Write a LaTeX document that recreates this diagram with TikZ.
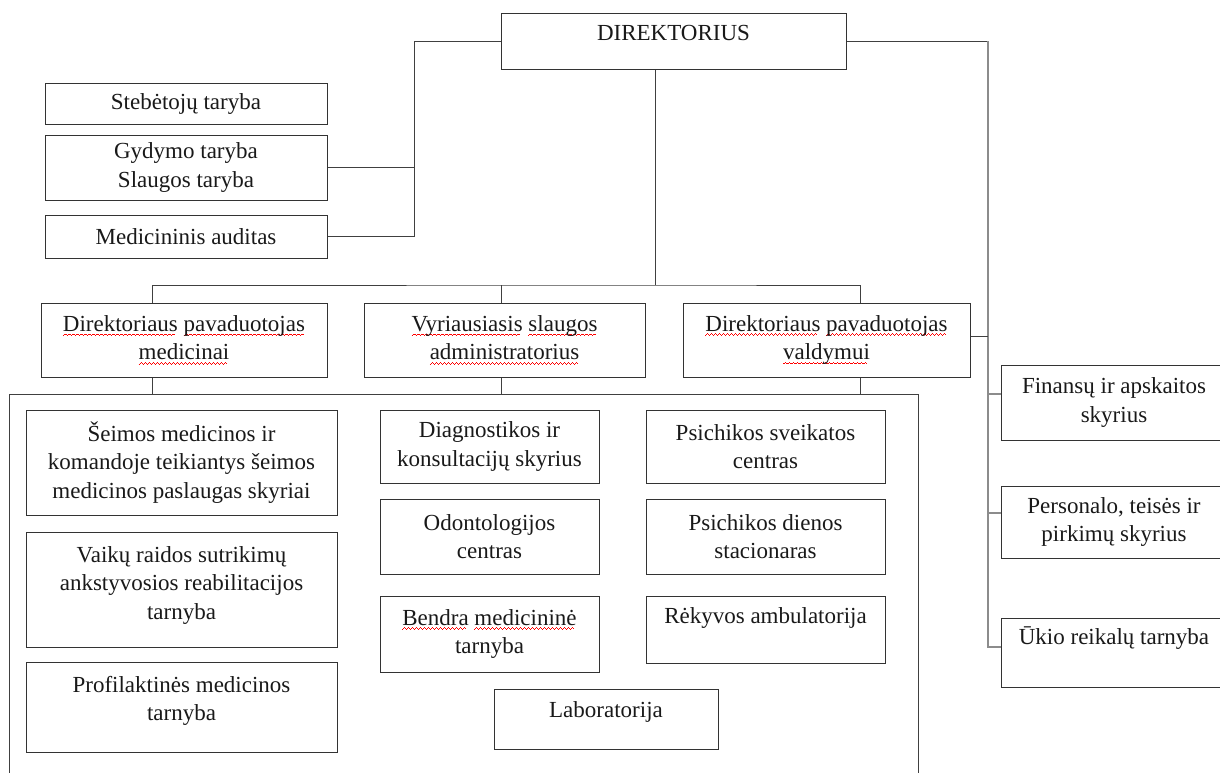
\documentclass[tikz,border=0pt]{standalone}
\usepackage{fontspec}
\setmainfont{Liberation Serif}
\newsavebox\wavewordbox
\newcommand\wavepiece{\hbox{\rule[-4.6pt]{1pt}{0.9pt}\rule[-3.8pt]{1pt}{0.9pt}\rule[-3pt]{1pt}{0.9pt}\rule[-3.8pt]{1pt}{0.9pt}}}
\newcommand\rwave[1]{\sbox\wavewordbox{#1}\rlap{\textcolor{red}{\hbox to \wd\wavewordbox{\leaders\wavepiece\hfill}}}\usebox\wavewordbox}
\newcommand\dfont{\fontsize{23}{28.5}\selectfont}
\begin{document}
\begin{tikzpicture}[x=1pt,y=-1pt,
  box/.style={draw=black!80,line width=1pt,rectangle,inner sep=0pt,align=center,font=\dfont,text=black!90},
  lbl/.style={inner sep=0pt,align=center,font=\dfont,text=black!90},
  conn/.style={draw=black!75,line width=1pt},
  bus/.style={draw=black!45,line width=1.2pt}]
\useasboundingbox (0,0) rectangle (1220,772);

% top
\node[box,minimum width=345pt,minimum height=56pt,label={[lbl,name=dirt,yshift=7.6pt]center:DIREKTORIUS}] (dir) at (673.5,41) {};

% councils
\node[box,minimum width=282pt,minimum height=41pt] (steb) at (186,103.5) {Stebėtojų taryba};
\node[box,minimum width=282pt,minimum height=65pt] (gyd) at (186,167.5) {Gydymo taryba\\Slaugos taryba};
\node[box,minimum width=282pt,minimum height=43pt] (med) at (186,236.5) {Medicininis auditas};

% deputies
\node[box,minimum width=286pt,minimum height=74pt] (d1) at (184,340) {\rwave{Direktoriaus} \rwave{pavaduotojas}\\\rwave{medicinai}};
\node[box,minimum width=281pt,minimum height=74pt] (d2) at (504.5,340) {\rwave{Vyriausiasis} \rwave{slaugos}\\\rwave{administratorius}};
\node[box,minimum width=287pt,minimum height=74pt] (d3) at (826.5,340) {\rwave{Direktoriaus} \rwave{pavaduotojas}\\\rwave{valdymui}};

% left column
\node[box,minimum width=311pt,minimum height=105pt] (seim) at (181.5,462.5) {Šeimos medicinos ir\\komandoje teikiantys šeimos\\medicinos paslaugas skyriai};
\node[box,minimum width=311pt,minimum height=115pt,label={[lbl,name=vaikt,yshift=4.5pt]center:Vaikų raidos sutrikimų\\ankstyvosios reabilitacijos\\tarnyba}] (vaik) at (181.5,589.5) {};
\node[box,minimum width=311pt,minimum height=90pt,label={[lbl,name=proft,yshift=6pt]center:Profilaktinės medicinos\\tarnyba}] (prof) at (181.5,707) {};

% middle column
\node[box,minimum width=219pt,minimum height=73pt] (diag) at (489.5,446.5) {Diagnostikos ir\\konsultacijų skyrius};
\node[box,minimum width=219pt,minimum height=75pt] (odon) at (489.5,536.5) {Odontologijos\\centras};
\node[box,minimum width=219pt,minimum height=76pt] (bend) at (489.5,634) {\rwave{Bendra} \rwave{medicininė}\\tarnyba};
\node[box,minimum width=224pt,minimum height=60pt,label={[lbl,name=labt,yshift=7.4pt]center:Laboratorija}] (lab) at (606,719) {};

% right inner column
\node[box,minimum width=239pt,minimum height=73pt] (psv) at (765.5,446.5) {Psichikos sveikatos\\centras};
\node[box,minimum width=239pt,minimum height=75pt] (psd) at (765.5,536.5) {Psichikos dienos\\stacionaras};
\node[box,minimum width=239pt,minimum height=67pt,label={[lbl,name=rekt,yshift=12pt]center:Rėkyvos ambulatorija}] (rek) at (765.5,629.5) {};

% far right column
\node[box,minimum width=226pt,minimum height=75pt] (fin) at (1114,402.5) {Finansų ir apskaitos\\skyrius};
\node[box,minimum width=226pt,minimum height=72pt] (pers) at (1114,522) {Personalo, teisės ir\\pirkimų skyrius};
\node[box,minimum width=226pt,minimum height=69pt,label={[lbl,name=ukt,yshift=14.5pt]center:Ūkio reikalų tarnyba}] (uk) at (1114,652.5) {};

% coordinates
\coordinate (lbus) at (414,43);
\coordinate (rbus) at (988,41);
\coordinate (hb) at (655,285);
\coordinate (etl) at (9,394);
\coordinate (etr) at (918,394);
\coordinate (ebl) at (9,776);
\coordinate (ebr) at (918,776);

% left councils connectors
\draw[conn] (dir.west) -- (dir.west -| lbus) |- (med.east);
\draw[conn] (gyd.east) -- (gyd.east -| lbus);

% right bus
\draw[conn] (dir.east) -- (dir.east -| rbus);
\draw[bus] (dir.east -| rbus) |- ([yshift=5.5pt]uk.west);
\draw[bus] ([yshift=8.5pt]fin.west) -- ([yshift=8.5pt]fin.west -| rbus);
\draw[bus] ([yshift=9pt]pers.west) -- ([yshift=9pt]pers.west -| rbus);
\draw[conn] ([yshift=4pt]d3.east) -- ([yshift=4pt]d3.east -| rbus);

% director to deputies
\draw[conn] (dir.south -| hb) -- (hb);
\draw[conn] ([xshift=-32pt]d1.north) |- (hb) -| ([xshift=33.5pt]d3.north);
\draw[conn] ([xshift=-3.5pt]d2.north) -- ([xshift=-3.5pt]d2.north |- hb);

% enclosure below deputies
\draw[conn] (ebl) -- (etl) -- (etr) -- (ebr);
\draw[conn] ([xshift=-32pt]d1.south) -- ([xshift=-32pt]d1.south |- etl);
\draw[conn] ([xshift=-3.5pt]d2.south) -- ([xshift=-3.5pt]d2.south |- etl);
\draw[conn] ([xshift=33.5pt]d3.south) -- ([xshift=33.5pt]d3.south |- etl);
\end{tikzpicture}
\end{document}
